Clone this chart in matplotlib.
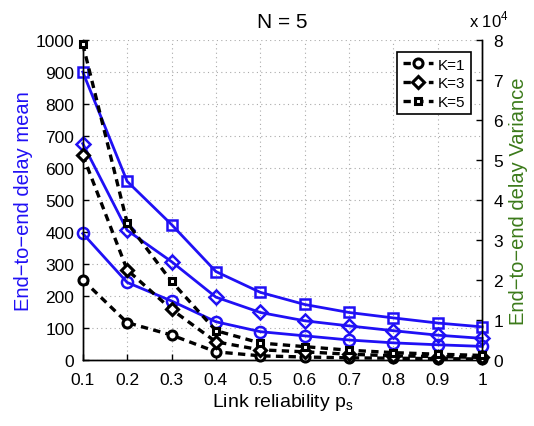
import numpy as np
import matplotlib
matplotlib.use('Agg')
import matplotlib.pyplot as plt

plt.rcParams['font.family'] = ['Liberation Sans', 'DejaVu Sans']

# link reliability
ps = [0.1, 0.2, 0.3, 0.4, 0.5, 0.6, 0.7, 0.8, 0.9, 1.0]
xtick_labels = ['0.1', '0.2', '0.3', '0.4', '0.5', '0.6', '0.7', '0.8', '0.9', '1']

# end-to-end delay mean (left axis)
mean_k1 = [395, 242, 184, 119, 88, 75, 62, 53, 47, 42]
mean_k3 = [676, 405, 307, 196, 148, 122, 106, 91, 77, 67]
mean_k5 = [900, 558, 423, 276, 211, 173, 148, 131, 115, 103]

# end-to-end delay variance (right axis, x 10^4)
var_k1 = [2.0, 0.93, 0.62, 0.2, 0.1, 0.07, 0.05, 0.04, 0.03, 0.02]
var_k3 = [5.12, 2.25, 1.26, 0.45, 0.25, 0.2, 0.14, 0.1, 0.08, 0.06]
var_k5 = [7.9, 3.43, 1.96, 0.73, 0.42, 0.33, 0.24, 0.18, 0.14, 0.11]

labels = ['K=1', 'K=3', 'K=5']
markers = ['o', 'D', 's']
msize_blue = [8, 7.5, 6.5]
msize_black = [6.5, 6, 5]

blue = '#2010f5'
green = '#3b7a1a'

fig = plt.figure(figsize=(5.34, 4.27), dpi=100)
ax = fig.add_axes([0.155, 0.155, 0.748, 0.749])
ax2 = ax.twinx()

for m, mean, ms in zip(markers, [mean_k1, mean_k3, mean_k5], msize_blue):
    ax.plot(ps, mean, color=blue, lw=2, marker=m, ms=ms, mfc='none',
            mec=blue, mew=1.8, clip_on=False, zorder=3)

handles = []
for m, var, ms, lab in zip(markers, [var_k1, var_k3, var_k5], msize_black, labels):
    h, = ax2.plot(ps, var, color='black', lw=2.4, ls=(0, (2.2, 1.6)), marker=m,
                  ms=ms, mfc='white', mec='black', mew=2.2, clip_on=False,
                  label=lab, zorder=3)
    handles.append(h)

ax.set_xlim(0.1, 1.0)
ax.set_ylim(0, 1000)
ax2.set_ylim(0, 8)
ax.set_xticks(ps)
ax.set_xticklabels(xtick_labels)
ax.set_yticks(np.arange(0, 1001, 100))
ax2.set_yticks(np.arange(0, 9, 1))

ax.grid(True, color='#aaaaaa', ls=(0, (1, 3)), lw=0.8)
for a in (ax, ax2):
    a.tick_params(direction='in', length=4, labelsize=12.5, width=1)
    a.spines['top'].set_visible(False)
    for s in a.spines.values():
        s.set_linewidth(1.0)
ax.tick_params(axis='x', pad=9)
ax.tick_params(axis='y', pad=6)
ax2.tick_params(axis='y', pad=8)

ax.set_xlabel(r'Link reliability p$_\mathregular{s}$', fontsize=14, labelpad=3)
ax.set_ylabel('End\u2212to\u2212end delay mean', fontsize=14.5, color=blue, labelpad=2)
ax2.set_ylabel('End\u2212to\u2212end delay Variance', fontsize=14.5, color=green, labelpad=4)
ax.set_title('N = 5', fontsize=15, pad=9)
fig.text(0.878, 0.935, r'x 10$^\mathregular{4}$', fontsize=12)

leg = ax2.legend(handles=handles, loc='upper right', bbox_to_anchor=(0.99, 0.985),
                 fontsize=11, handlelength=2.0, handletextpad=0.3,
                 borderpad=0.35, labelspacing=0.3, fancybox=False,
                 edgecolor='black', framealpha=1)
leg.get_frame().set_linewidth(1.2)

fig.savefig('out.png', dpi=100)
